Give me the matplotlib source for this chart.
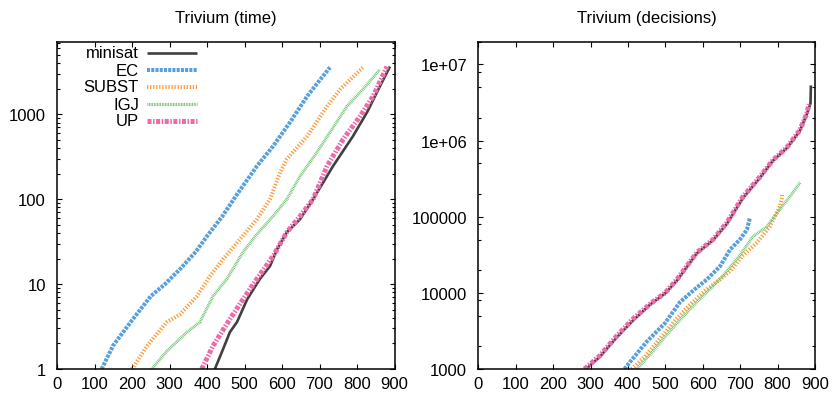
import matplotlib
matplotlib.use("Agg")
import matplotlib.pyplot as plt
from matplotlib.ticker import LogLocator, FixedLocator, NullFormatter, NullLocator
import numpy as np

plt.rcParams['font.family'] = ['Liberation Sans', 'DejaVu Sans']
plt.rcParams['lines.scale_dashes'] = False

titles = ["Trivium (time)", "Trivium (decisions)"]
series_names = ["minisat", "EC", "SUBST", "IGJ", "UP"]
x_ticks = [0, 100, 200, 300, 400, 500, 600, 700, 800, 900]
time_ticks = [1, 10, 100, 1000]
time_tick_labels = ["1", "10", "100", "1000"]
dec_ticks = [1e3, 1e4, 1e5, 1e6, 1e7]
dec_tick_labels = ["1000", "10000", "100000", "1e+06", "1e+07"]

# ---- time panel (solved instances vs seconds) ----
t_minisat_x = [421, 443, 461, 480, 507, 541, 568, 587, 613, 648, 683, 736, 789, 827, 861, 888]
t_minisat_y = [1.0, 1.72, 2.72, 3.57, 6.6, 11.5, 16.3, 25.8, 40.9, 58, 100, 245, 550, 1060, 2130, 3650]
t_ec_x = [119, 150, 203, 250, 288, 328, 370, 400, 440, 480, 533, 576, 621, 667, 700, 728]
t_ec_y = [1.0, 1.9, 3.9, 7.2, 10.0, 15.0, 24.0, 36.7, 62, 114, 245, 420, 800, 1630, 2500, 3570]
t_subst_x = [200, 240, 293, 328, 373, 408, 443, 488, 533, 568, 595, 613, 667, 720, 755, 816]
t_subst_y = [1.0, 1.87, 3.57, 4.4, 7.2, 12.4, 19.7, 33.8, 58, 100, 207, 296, 550, 1240, 1970, 3570]
t_igj_x = [253, 293, 347, 381, 416, 453, 496, 533, 576, 613, 648, 693, 728, 773, 816, 861]
t_igj_y = [1.0, 1.63, 2.72, 3.57, 7.2, 11.5, 23.8, 38.6, 63, 100, 186, 356, 613, 1240, 1970, 3380]
t_up_x = [386, 416, 461, 496, 533, 576, 613, 648, 683, 720, 763, 808, 843, 880]
t_up_y = [1.0, 1.87, 3.87, 6.6, 11.5, 21.3, 40.9, 63, 100, 245, 507, 945, 1630, 3650]

# ---- decisions panel ----
d_minisat_x = [288, 325, 370, 413, 459, 499, 531, 584, 627, 664, 707, 752, 787, 825, 859, 878, 888, 889]
d_minisat_y = [1000, 1450, 2600, 4300, 7000, 9800, 14500, 33000, 49000, 80000, 175000, 320000, 540000, 800000, 1330000, 2200000, 3100000, 5300000]
d_ec_x = [391, 397, 450, 499, 539, 579, 611, 646, 673, 699, 718, 726]
d_ec_y = [1000, 1100, 2280, 4000, 7550, 11200, 15000, 22300, 37000, 50000, 67500, 96800]
d_subst_x = [410, 445, 485, 525, 565, 605, 640, 673, 707, 745, 779, 806, 812, 812]
d_subst_y = [1000, 1450, 2500, 4300, 6900, 10600, 14200, 19200, 31000, 45700, 74000, 136000, 180000, 200000]
d_igj_x = [424, 459, 499, 539, 579, 619, 654, 699, 734, 771, 806, 833, 860]
d_igj_y = [1000, 1540, 2650, 4420, 7150, 11200, 16800, 31000, 54800, 74000, 125000, 184000, 280000]
d_up_x = [284, 325, 370, 413, 459, 499, 531, 584, 627, 664, 707, 752, 787, 825, 859, 878, 884]
d_up_y = [1000, 1500, 2720, 4530, 7150, 10000, 15000, 33800, 50000, 83000, 182000, 331000, 550000, 815000, 1360000, 2260000, 3000000]

styles = {
    "minisat": dict(color="#404040", lw=1.9, dashes=None),
    "EC": dict(color="#56A0DC", lw=2.9, dashes=(2.2, 0.85)),
    "SUBST": dict(color="#FF9A33", lw=2.9, dashes=(0.9, 1.3)),
    "IGJ": dict(color="#5DBB5D", lw=2.2, dashes=(0.55, 0.6)),
    "UP": dict(color="#EE6BA8", lw=3.6, dashes=(2.9, 1.1, 1.1, 1.1)),
}

W, H = 836, 402
fig = plt.figure(figsize=(W / 100, H / 100), dpi=100)

def px_axes(x0, x1, ytop, ybot):
    return fig.add_axes([x0 / W, 1 - ybot / H, (x1 - x0) / W, (ybot - ytop) / H])

ax1 = px_axes(57, 394.5, 42.5, 370)
ax2 = px_axes(478.3, 815, 42.5, 370)

def draw(ax, name, xs, ys):
    st = styles[name]
    line, = ax.plot(xs, ys, color=st["color"], lw=st["lw"], solid_capstyle="butt",
                    dash_capstyle="butt", clip_on=True)
    if st["dashes"] is not None:
        line.set_dashes(st["dashes"])
    return line

left_data = [(t_minisat_x, t_minisat_y), (t_ec_x, t_ec_y), (t_subst_x, t_subst_y),
             (t_igj_x, t_igj_y), (t_up_x, t_up_y)]
right_data = [(d_minisat_x, d_minisat_y), (d_ec_x, d_ec_y), (d_subst_x, d_subst_y),
              (d_igj_x, d_igj_y), (d_up_x, d_up_y)]

for name, (xs, ys) in zip(series_names, left_data):
    draw(ax1, name, xs, ys)
for name, (xs, ys) in zip(series_names, right_data):
    draw(ax2, name, xs, ys)

for ax in (ax1, ax2):
    ax.set_yscale("log")
    ax.set_xlim(0, 900)
    ax.xaxis.set_major_locator(FixedLocator(x_ticks))
    ax.set_xticklabels([str(v) for v in x_ticks])
    ax.xaxis.set_minor_locator(NullLocator())
    ax.tick_params(which="both", direction="in", top=True, right=True, width=0.8, labelsize=12)
    ax.tick_params(which="major", length=3.6)
    ax.tick_params(which="minor", length=2.0)
    ax.tick_params(axis="x", pad=5)
    ax.tick_params(axis="y", pad=8)
    for s in ax.spines.values():
        s.set_linewidth(1.1)

ax1.set_ylim(1, 7200)
ax1.yaxis.set_major_locator(FixedLocator(time_ticks))
ax1.set_yticklabels(time_tick_labels)
ax1.yaxis.set_minor_locator(LogLocator(base=10, subs=np.arange(2, 10)))
ax1.yaxis.set_minor_formatter(NullFormatter())

ax2.set_ylim(1000, 2e7)
ax2.yaxis.set_major_locator(FixedLocator(dec_ticks))
ax2.set_yticklabels(dec_tick_labels)
ax2.yaxis.set_minor_locator(LogLocator(base=10, subs=(2, 5, 8)))
ax2.yaxis.set_minor_formatter(NullFormatter())

ax1.set_title(titles[0], fontsize=12, pad=14)
ax2.set_title(titles[1], fontsize=12, pad=14)

# legend (gnuplot style: right-aligned text, sample to the right)
def axfrac(px, py):
    return (px - 57) / 337.5, (370 - py) / 327.5

rows_py = [54, 71, 88, 105, 122]
for name, py in zip(series_names, rows_py):
    tx, ty = axfrac(139, py)
    ax1.text(tx, ty, name, transform=ax1.transAxes, ha="right", va="center", fontsize=12)
    lx0, _ = axfrac(147, py)
    lx1, _ = axfrac(197, py)
    st = styles[name]
    ln, = ax1.plot([lx0, lx1], [ty, ty], transform=ax1.transAxes, color=st["color"],
                   lw=st["lw"], solid_capstyle="butt", dash_capstyle="butt")
    if st["dashes"] is not None:
        ln.set_dashes(st["dashes"])

fig.savefig("out.png", dpi=100)
